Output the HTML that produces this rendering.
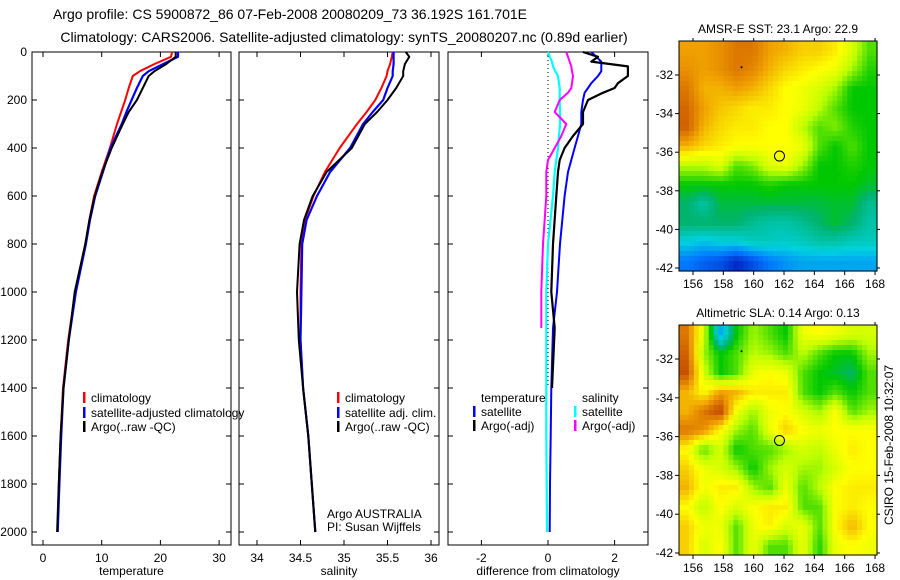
<!DOCTYPE html>
<html><head><meta charset="utf-8"><style>
html,body{margin:0;padding:0;background:#fff;}
svg{display:block;font-family:"Liberation Sans",sans-serif;}
</style></head><body>
<svg id="fig" width="900" height="580" viewBox="0 0 900 580" xmlns="http://www.w3.org/2000/svg">
<text x="290" y="19" font-size="14" text-anchor="middle">Argo profile: CS 5900872_86 07-Feb-2008 20080209_73 36.192S 161.701E</text>
<text x="344" y="42" font-size="14" text-anchor="middle">Climatology: CARS2006. Satellite-adjusted climatology: synTS_20080207.nc (0.89d earlier)</text>
<g id="plots"></g>
</svg>
<script>
const NS='http://www.w3.org/2000/svg';
// ---- data ----
const depths=[0,20,50,80,100,150,200,250,300,400,500,600,700,800,1000,1200,1400,1600,1800,2000];
const tempClim=[22,21.8,19,16.5,15.3,14.6,14,13.3,12.6,11.4,10,8.7,7.9,7.2,5.5,4.3,3.4,3.0,2.7,2.5];
const tempSat=[23,23,20.5,18,17,16,15.1,14.2,13.4,11.5,10.2,8.9,8.0,7.3,5.6,4.4,3.5,3.1,2.8,2.5];
const tempArgo=[22.6,22.6,21,19,18,17,16,14.6,13.6,11.7,10.1,8.8,7.9,7.2,5.4,4.4,3.5,3.0,2.7,2.4];
const salClim=[35.56,35.55,35.53,35.5,35.49,35.43,35.36,35.26,35.15,34.95,34.78,34.65,34.55,34.51,34.5,34.5,34.53,34.59,34.63,34.67];
const salSat=[35.57,35.57,35.57,35.56,35.56,35.5,35.45,35.33,35.22,35.07,34.84,34.69,34.57,34.52,34.51,34.5,34.53,34.59,34.63,34.67];
const salArgo=[35.71,35.75,35.7,35.68,35.68,35.6,35.5,35.38,35.24,35.09,34.8,34.64,34.54,34.49,34.46,34.48,34.53,34.59,34.63,34.67];
const dDepths=[0,20,40,60,80,100,130,150,170,200,250,300,350,400,450,500,600,800,1000,1150,1400,1600,1800,2000];
const dTempSat=[1.3,1.45,1.6,1.6,1.6,1.5,1.3,1.2,1.1,1.05,1.0,1.0,0.9,0.8,0.7,0.6,0.5,0.36,0.27,0.15,0.1,0.08,0.06,0.05];
const dTempArgo=[1.05,1.5,1.3,2.4,2.4,2.4,2.1,2.0,1.65,1.2,1.05,1.05,0.75,0.5,0.35,0.3,0.25,0.15,0.1,0.2,0.12,0.1,0.08,0.05];
const dSalSat=[0,0.05,0.12,0.15,0.22,0.3,0.33,0.35,0.35,0.35,0.36,0.36,0.33,0.3,0.25,0.2,0.15,0,-0.05,-0.05,-0.05,-0.05,-0.04,-0.03];
const dSalArgo=[0.55,0.6,0.65,0.7,0.72,0.75,0.72,0.7,0.6,0.35,0.2,0.55,0.4,0.2,0,-0.05,-0.05,-0.15,-0.2,-0.2,-0.1,-0.05,-0.03,-0.02];
const depthTicks=[0,200,400,600,800,1000,1200,1400,1600,1800,2000];
const tempTicks=[0,10,20,30];
const salTicks=[34,34.5,35,35.5,36];
const diffTicks=[-2,0,2];
const lonTicks=[156,158,160,162,164,166,168];
const latTicks=[-32,-34,-36,-38,-40,-42];
const sstGrid=[
[0.8,0.8,0.82,0.85,0.85,0.8,0.78,0.75,0.75,0.72,0.65,0.55],
[0.82,0.8,0.82,0.85,0.83,0.78,0.74,0.72,0.7,0.68,0.6,0.52],
[0.85,0.78,0.78,0.8,0.78,0.74,0.7,0.68,0.65,0.6,0.5,0.5],
[0.87,0.8,0.76,0.74,0.72,0.72,0.7,0.68,0.62,0.55,0.5,0.5],
[0.88,0.78,0.74,0.72,0.72,0.7,0.7,0.62,0.55,0.58,0.52,0.5],
[0.78,0.74,0.72,0.7,0.7,0.7,0.7,0.68,0.55,0.5,0.55,0.5],
[0.62,0.62,0.66,0.55,0.58,0.66,0.68,0.6,0.5,0.5,0.52,0.5],
[0.5,0.5,0.5,0.5,0.5,0.52,0.5,0.5,0.5,0.5,0.5,0.48],
[0.45,0.4,0.47,0.47,0.47,0.47,0.47,0.47,0.47,0.48,0.48,0.42],
[0.45,0.45,0.45,0.45,0.42,0.4,0.4,0.42,0.45,0.48,0.45,0.4],
[0.35,0.33,0.35,0.35,0.38,0.38,0.37,0.38,0.4,0.4,0.38,0.38],
[0.25,0.22,0.2,0.15,0.2,0.25,0.28,0.3,0.3,0.3,0.3,0.3]];
const slaGrid=[
[0.85,0.65,0.3,0.5,0.6,0.55,0.5,0.68,0.7,0.68,0.65,0.65],
[0.88,0.6,0.5,0.55,0.62,0.6,0.55,0.62,0.55,0.5,0.5,0.6],
[0.9,0.65,0.5,0.55,0.68,0.7,0.68,0.55,0.5,0.48,0.45,0.55],
[0.78,0.7,0.8,0.78,0.72,0.72,0.72,0.55,0.5,0.55,0.5,0.55],
[0.78,0.85,0.92,0.68,0.6,0.68,0.7,0.65,0.6,0.7,0.55,0.6],
[0.85,0.82,0.7,0.6,0.55,0.68,0.75,0.7,0.68,0.7,0.7,0.7],
[0.7,0.55,0.65,0.5,0.55,0.55,0.6,0.65,0.62,0.68,0.72,0.7],
[0.75,0.68,0.65,0.6,0.5,0.6,0.65,0.6,0.6,0.65,0.7,0.7],
[0.78,0.68,0.72,0.72,0.6,0.55,0.68,0.55,0.62,0.7,0.72,0.72],
[0.7,0.62,0.7,0.65,0.7,0.72,0.72,0.55,0.55,0.7,0.72,0.7],
[0.75,0.68,0.68,0.55,0.68,0.72,0.65,0.68,0.55,0.7,0.78,0.7],
[0.75,0.65,0.7,0.55,0.68,0.55,0.55,0.68,0.52,0.68,0.7,0.68]];
const floatLon=161.7, floatLat=-36.2;

// ---- helpers ----
const root=document.getElementById('plots');
function mk(tag,attrs,parent){const e=document.createElementNS(NS,tag);for(const k in attrs)e.setAttribute(k,attrs[k]);(parent||root).appendChild(e);return e;}
function txt(x,y,s,size,anchor,parent){const t=mk('text',{x:x,y:y,'font-size':size,'text-anchor':anchor||'start'},parent);t.textContent=s;return t;}
const Y0=52,Y1=545;
const yD=d=>Y0+d*0.24;

function panel(name,x0,x1,xs,xticks,lbl,xlabel,showY){
  const g=mk('g',{});
  
  
  const fr=mk('rect',{x:x0,y:Y0,width:x1-x0,height:Y1-Y0,fill:'none',stroke:'#000','stroke-width':1},g);
  
  
  xticks.forEach((v,i)=>{const x=xs(v);
    mk('line',{x1:x,x2:x,y1:Y1,y2:Y1-5,stroke:'#000'},g);
    mk('line',{x1:x,x2:x,y1:Y0,y2:Y0+5,stroke:'#000'},g);
    const t=txt(x,Y1+17,lbl[i],12,'middle',g);
    
    
  });
  depthTicks.forEach(d=>{const y=yD(d);
    mk('line',{x1:x0,x2:x0+5,y1:y,y2:y,stroke:'#000'},g);
    mk('line',{x1:x1,x2:x1-5,y1:y,y2:y,stroke:'#000'},g);
    if(showY){const t=txt(x0-5,y+4,String(d),12,'end',g);
      
      }
  });
  const xl=txt((x0+x1)/2,Y1+30,xlabel,12,'middle',g);
  
  
  return g;
}
function line(g,ds,vals,xs,color,w,name){
  const pts=ds.map((d,i)=>xs(vals[i]).toFixed(1)+','+yD(d).toFixed(1)).join(' ');
  const p=mk('polyline',{points:pts,fill:'none',stroke:color,'stroke-width':w,'stroke-linejoin':'round'},g);
  
  
}
function legend(g,x,y,color,label,name){
  const r=mk('rect',{x:x,y:y-10,width:2.5,height:11,fill:color},g);
  
  
  const t=txt(x+8,y,label,12,'start',g);
  
  
}

// ---- panel 1 temperature ----
const xT=v=>43+v*5.87;
const g1=panel('temperature-panel',32,231,xT,tempTicks,tempTicks.map(String),'temperature',true);
line(g1,depths,tempClim,xT,'#ff0000',2,'temp-climatology-line');
line(g1,depths,tempSat,xT,'#0000ff',2.2,'temp-satellite-line');
line(g1,depths,tempArgo,xT,'#000000',2,'temp-argo-line');
legend(g1,83,402,'#ff0000','climatology','legend-climatology');
legend(g1,83,417,'#0000ff','satellite-adjusted climatology','legend-satellite-adjusted');
legend(g1,83,431,'#000000','Argo(..raw -QC)','legend-argo');

// ---- panel 2 salinity ----
const xS=v=>257+(v-34)*87;
const g2=panel('salinity-panel',239,439,xS,salTicks,['34','34.5','35','35.5','36'],'salinity',false);
line(g2,depths,salClim,xS,'#ff0000',2,'sal-climatology-line');
line(g2,depths,salSat,xS,'#0000ff',2.2,'sal-satellite-line');
line(g2,depths,salArgo,xS,'#000000',2,'sal-argo-line');
legend(g2,337,402,'#ff0000','climatology','legend2-climatology');
legend(g2,337,417,'#0000ff','satellite adj. clim.','legend2-satellite');
legend(g2,337,431,'#000000','Argo(..raw -QC)','legend2-argo');
const a1=txt(327,518,'Argo AUSTRALIA',12,'start',g2);


const a2=txt(327,531,'PI: Susan Wijffels',12,'start',g2);



// ---- panel 3 difference ----
const xF=v=>548+v*33.3;
const g3=panel('difference-panel',448,648,xF,diffTicks,['-2','0','2'],'difference from climatology',false);
const zl=mk('line',{x1:xF(0),x2:xF(0),y1:Y0,y2:yD(1400),stroke:'#000','stroke-dasharray':'1,3'},g3);


line(g3,dDepths,dSalSat,xF,'#00ffff',2.2,'diff-sal-satellite-line');
line(g3,dDepths.slice(0,20),dSalArgo.slice(0,20),xF,'#ff00ff',2,'diff-sal-argo-line');
line(g3,dDepths,dTempSat,xF,'#0000ff',2,'diff-temp-satellite-line');
line(g3,dDepths.slice(0,21),dTempArgo.slice(0,21),xF,'#000000',2.2,'diff-temp-argo-line');
const lt=txt(481,402,'temperature',12,'start',g3);


const ls=txt(582,402,'salinity',12,'start',g3);


legend(g3,473,416,'#0000ff','satellite','legend3-temp-satellite');
legend(g3,473,430,'#000000','Argo(-adj)','legend3-temp-argo');
legend(g3,574,416,'#00ffff','satellite','legend3-sal-satellite');
legend(g3,574,430,'#ff00ff','Argo(-adj)','legend3-sal-argo');

// ---- maps ----
const cstops=[[0,[0,0,140]],[0.15,[0,40,200]],[0.25,[0,120,255]],[0.35,[0,210,225]],[0.45,[0,180,110]],[0.5,[0,200,0]],[0.62,[190,255,0]],[0.7,[255,255,0]],[0.8,[240,160,0]],[0.9,[200,80,0]],[1,[140,0,0]]];
function cmap(v){v=Math.max(0,Math.min(1,v));for(let i=1;i<cstops.length;i++){if(v<=cstops[i][0]){const a=cstops[i-1],b=cstops[i],t=(v-a[0])/(b[0]-a[0]);const c=a[1].map((x,k)=>Math.round(x+(b[1][k]-x)*t));return 'rgb('+c.join(',')+')';}}return 'rgb(140,0,0)';}
function sample(grid,fx,fy){const R=grid.length,C=grid[0].length;let x=fx*C-0.5,y=fy*R-0.5;x=Math.max(0,Math.min(C-1,x));y=Math.max(0,Math.min(R-1,y));const x0=Math.floor(x),y0=Math.floor(y),x1=Math.min(C-1,x0+1),y1=Math.min(R-1,y0+1),tx=x-x0,ty=y-y0;return grid[y0][x0]*(1-tx)*(1-ty)+grid[y0][x1]*tx*(1-ty)+grid[y1][x0]*(1-tx)*ty+grid[y1][x1]*tx*ty;}
function map(name,grid,top,bot,lat32y,lat42y,title){
  const L=679,R=877;
  const lonX=l=>693+(l-156)*15.17;
  const latY=l=>lat32y+(-32-l)*(lat42y-lat32y)/10;
  const g=mk('g',{});
  
  
  const N=40,M=46;const cw=(R-L)/N,ch=(bot-top)/M;
  for(let j=0;j<M;j++)for(let i=0;i<N;i++){
    mk('rect',{x:(L+i*cw).toFixed(2),y:(top+j*ch).toFixed(2),width:(cw+0.6).toFixed(2),height:(ch+0.6).toFixed(2),fill:cmap(sample(grid,(i+0.5)/N,(j+0.5)/M))},g);
  }
  const fr=mk('rect',{x:L,y:top,width:R-L,height:bot-top,fill:'none',stroke:'#000'},g);
  
  
  lonTicks.forEach(l=>{const x=lonX(l);mk('line',{x1:x,x2:x,y1:bot,y2:bot+4,stroke:'#000'},g);mk('line',{x1:x,x2:x,y1:top,y2:top-3,stroke:'#000'},g);
    const t=txt(x,bot+17,String(l),12,'middle',g);});
  latTicks.forEach(l=>{const y=latY(l);mk('line',{x1:L,x2:L-4,y1:y,y2:y,stroke:'#000'},g);mk('line',{x1:R,x2:R+3,y1:y,y2:y,stroke:'#000'},g);
    const t=txt(L-6,y+4,String(l),12,'end',g);});
  const c=mk('circle',{cx:lonX(floatLon),cy:latY(floatLat),r:5,fill:'none',stroke:'#000'},g);
  
  
  mk('circle',{cx:lonX(159.2),cy:latY(-31.6),r:1,fill:'#000'},g);
  const tt=txt((L+R)/2,top-8,title,12,'middle',g);
  
  
}
map('sst-map',sstGrid,41,271,75,268,'AMSR-E SST: 23.1 Argo: 22.9');
map('sla-map',slaGrid,325,555,359,553,'Altimetric SLA: 0.14 Argo: 0.13');
const cs=txt(0,0,'CSIRO 15-Feb-2008 10:32:07',12,'middle');
cs.setAttribute('transform','translate(893,445) rotate(-90)');


</script>
</body></html>
